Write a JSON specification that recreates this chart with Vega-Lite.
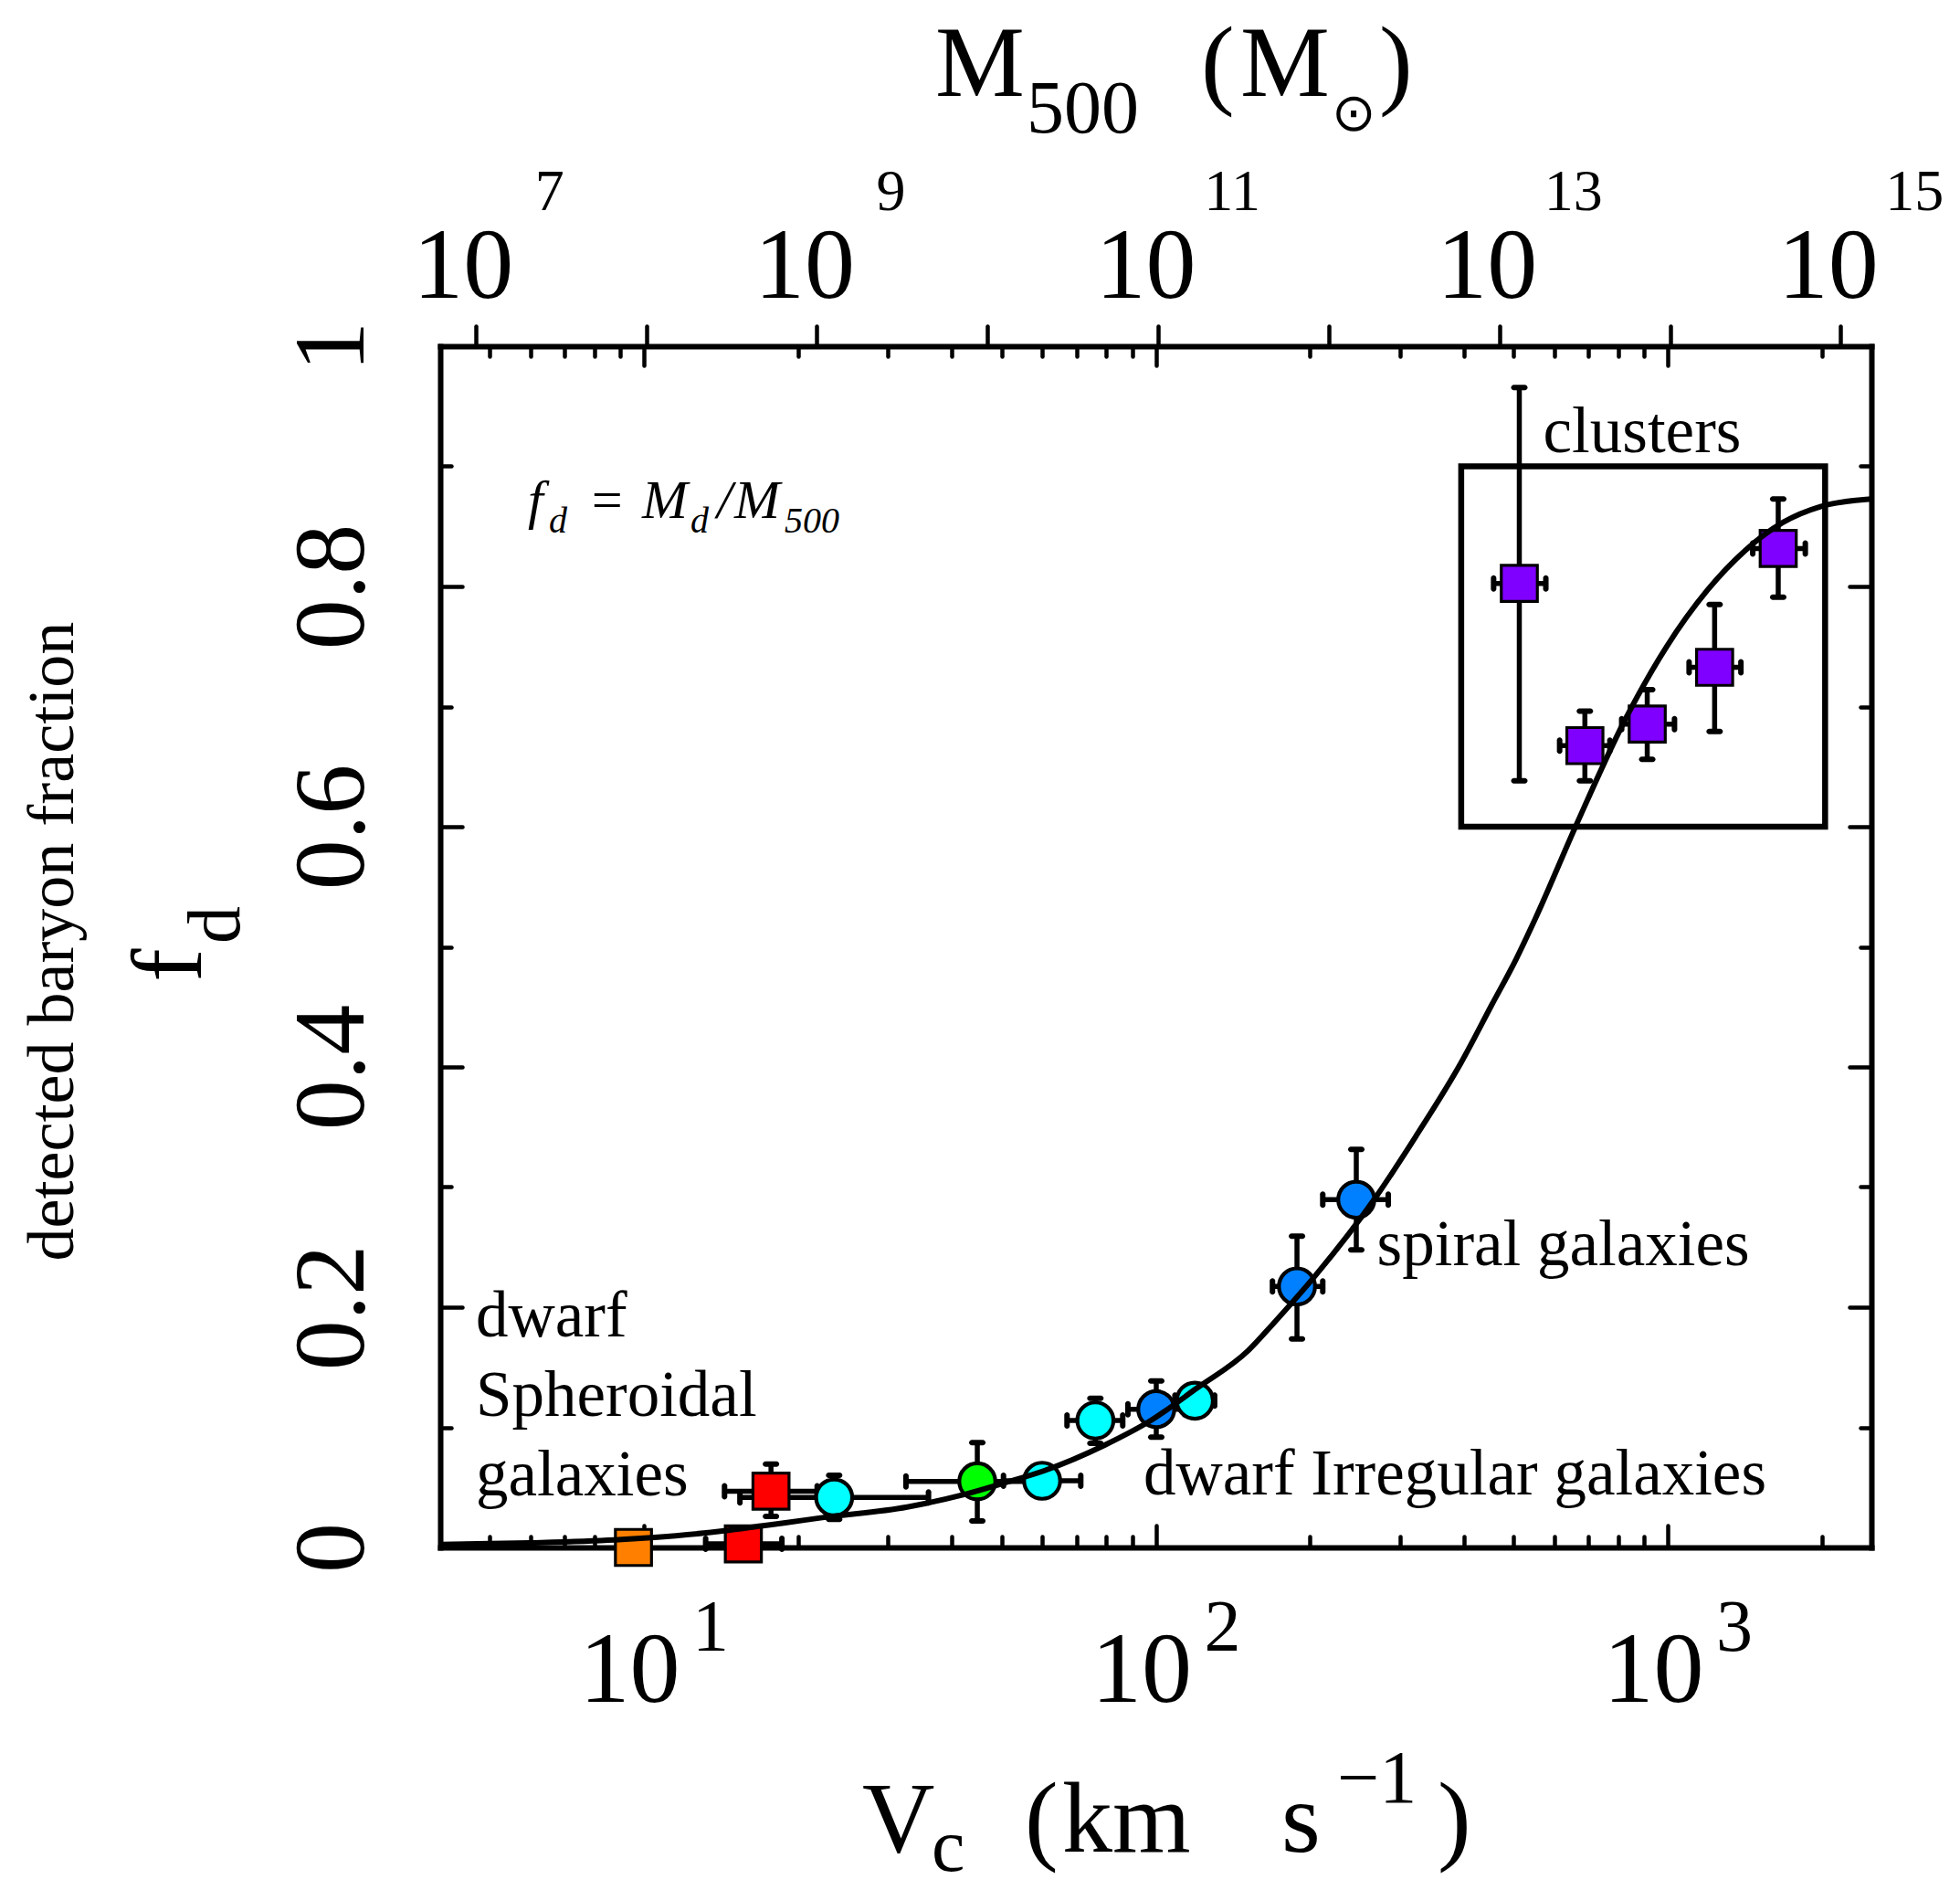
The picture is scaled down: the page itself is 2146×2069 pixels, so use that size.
{
  "$schema": "https://vega.github.io/schema/vega-lite/v6.json",
  "width": 1567,
  "height": 1315,
  "autosize": {"type": "none"},
  "padding": {"left": 482, "top": 379, "right": 97, "bottom": 375},
  "background": "white",
  "config": {
    "view": {"stroke": null},
    "axis": {
      "grid": false, "title": null,
      "labelFont": "Liberation Serif", "labelFontSize": 110, "labelColor": "black",
      "tickColor": "black", "domainColor": "black", "domainWidth": 6, "domainCap": "square",
      "tickWidth": 4.5, "tickCap": "round", "labelOverlap": false, "labelFlush": false, "zindex": 1
    }
  },
  "datasets": {
    "box": [{"V1": 395, "V2": 2030, "f1": 0.6, "f2": 0.9}],
    "curve": [
      {"V": 4.0, "f": 0.0025}, {"V": 5.98, "f": 0.0038}, {"V": 8.76, "f": 0.0062}, {"V": 10.35, "f": 0.0082},
      {"V": 14.35, "f": 0.0138}, {"V": 16.92, "f": 0.0178}, {"V": 18.9, "f": 0.0205}, {"V": 22.3, "f": 0.0248},
      {"V": 32.69, "f": 0.0337}, {"V": 41.82, "f": 0.0436}, {"V": 50.67, "f": 0.0538}, {"V": 60.53, "f": 0.0639},
      {"V": 79.62, "f": 0.0854}, {"V": 97.77, "f": 0.1057}, {"V": 120.0, "f": 0.1323}, {"V": 151.6, "f": 0.164},
      {"V": 169.0, "f": 0.1856}, {"V": 204.8, "f": 0.2261}, {"V": 269.4, "f": 0.292}, {"V": 321.8, "f": 0.342},
      {"V": 395.3, "f": 0.404}, {"V": 453.2, "f": 0.4517}, {"V": 505.6, "f": 0.4897}, {"V": 552, "f": 0.524},
      {"V": 662, "f": 0.601}, {"V": 825, "f": 0.6888}, {"V": 994, "f": 0.7496}, {"V": 1197, "f": 0.7972},
      {"V": 1418, "f": 0.8301}, {"V": 1679, "f": 0.8533}, {"V": 1988, "f": 0.8665}, {"V": 2498, "f": 0.8728}
    ],
    "pts": [
      {"cls": "dSph_o", "V": 9.54, "f": 0.0, "Vlo": null, "Vhi": null, "flo": null, "fhi": null},
      {"cls": "dSph_r", "V": 15.64, "f": 0.003, "Vlo": 13.2, "Vhi": 18.6, "flo": null, "fhi": null},
      {"cls": "dSph_r", "V": 17.71, "f": 0.0468, "Vlo": 14.37, "Vhi": 21.8, "flo": 0.0259, "fhi": 0.0694},
      {"cls": "dIrr", "V": 23.53, "f": 0.0416, "Vlo": 15.4, "Vhi": 35.97, "flo": 0.0233, "fhi": 0.0601},
      {"cls": "dIrr_g", "V": 44.8, "f": 0.055, "Vlo": 32.5, "Vhi": 61.8, "flo": 0.0221, "fhi": 0.0872},
      {"cls": "dIrr", "V": 59.96, "f": 0.0555, "Vlo": 50.4, "Vhi": 71.35, "flo": null, "fhi": null},
      {"cls": "dIrr", "V": 76.2, "f": 0.1057, "Vlo": 67.07, "Vhi": 86.17, "flo": 0.0867, "fhi": 0.1242},
      {"cls": "spiral", "V": 100.2, "f": 0.1151, "Vlo": 88.2, "Vhi": 113.8, "flo": 0.0918, "fhi": 0.1386},
      {"cls": "dIrr", "V": 119.2, "f": 0.1222, "Vlo": 109.0, "Vhi": 130.3, "flo": null, "fhi": null},
      {"cls": "spiral", "V": 188.7, "f": 0.2173, "Vlo": 169.0, "Vhi": 211.9, "flo": 0.1736, "fhi": 0.2591},
      {"cls": "spiral", "V": 246.4, "f": 0.2895, "Vlo": 211.9, "Vhi": 284.5, "flo": 0.2477, "fhi": 0.3313},
      {"cls": "cluster", "V": 513, "f": 0.8025, "Vlo": 457, "Vhi": 578, "flo": 0.6382, "fhi": 0.9655},
      {"cls": "cluster", "V": 689, "f": 0.6675, "Vlo": 615, "Vhi": 771, "flo": 0.6382, "fhi": 0.6962},
      {"cls": "cluster", "V": 912, "f": 0.6854, "Vlo": 813, "Vhi": 1031, "flo": 0.656, "fhi": 0.7141},
      {"cls": "cluster", "V": 1235, "f": 0.7327, "Vlo": 1101, "Vhi": 1390, "flo": 0.6793, "fhi": 0.785},
      {"cls": "cluster", "V": 1644, "f": 0.8316, "Vlo": 1466, "Vhi": 1857, "flo": 0.7911, "fhi": 0.8728}
    ],
    "notes": [
      {"t": "clusters", "V": 570.9, "f": 0.9118},
      {"t": "spiral galaxies", "V": 270.3, "f": 0.235},
      {"t": "dwarf Irregular galaxies", "V": 94.6, "f": 0.0441},
      {"t": "dwarf\nSpheroidal\ngalaxies", "V": 4.695, "f": 0.1757}
    ],
    "formula": [
      {"t": "f", "V": 5.934, "f": 0.8573, "sub": false},
      {"t": "d", "V": 6.524, "f": 0.8449, "sub": true},
      {"t": "=", "V": 7.783, "f": 0.8573, "sub": false},
      {"t": "M", "V": 9.917, "f": 0.8573, "sub": false},
      {"t": "d", "V": 12.33, "f": 0.8449, "sub": true},
      {"t": "/", "V": 13.89, "f": 0.8573, "sub": false},
      {"t": "M", "V": 15.02, "f": 0.8573, "sub": false},
      {"t": "500", "V": 18.83, "f": 0.8449, "sub": true}
    ],
    "titles": [
      {"t": "M", "V": 37.08, "f": 1.2084, "kind": "main"},
      {"t": "(", "V": 122.6, "f": 1.2084, "kind": "main"},
      {"t": "M", "V": 146.3, "f": 1.2084, "kind": "main"},
      {"t": ")", "V": 273.1, "f": 1.2084, "kind": "main"},
      {"t": "V", "V": 26.7, "f": -0.2532, "kind": "main"},
      {"t": "(", "V": 55.45, "f": -0.2532, "kind": "main"},
      {"t": "km", "V": 65.62, "f": -0.2532, "kind": "main"},
      {"t": "s", "V": 175.9, "f": -0.2532, "kind": "main"},
      {"t": ")", "V": 355.1, "f": -0.2532, "kind": "main"},
      {"t": "500", "V": 55.93, "f": 1.1779, "kind": "sub"},
      {"t": "c", "V": 36.47, "f": -0.2692, "kind": "sub"},
      {"t": "−1", "V": 226.0, "f": -0.2122, "kind": "sub"},
      {"t": "⊙", "V": 220.5, "f": 1.1924, "kind": "sun"},
      {"t": "f", "V": 1.3634, "f": 0.4707, "kind": "rot"},
      {"t": "d", "V": 1.618, "f": 0.5027, "kind": "rotsub"},
      {"t": "detected baryon fraction", "V": 0.7671, "f": 0.5045, "kind": "rotlabel"}
    ],
    "xexp": [{"V": 10, "e": "1"}, {"V": 100, "e": "2"}, {"V": 1000, "e": "3"}],
    "mexp": [{"M": 1e7, "e": "7"}, {"M": 1e9, "e": "9"}, {"M": 1e11, "e": "11"}, {"M": 1e13, "e": "13"}, {"M": 1e15, "e": "15"}]
  },
  "resolve": {"scale": {"x": "independent"}, "axis": {"x": "independent", "y": "independent"}},
  "layer": [
    {
      "data": {"name": "box"},
      "mark": {"type": "rect", "fill": "transparent", "stroke": "black", "strokeWidth": 6.5},
      "encoding": {
        "x": {"field": "V1", "type": "quantitative", "scale": {"type": "log", "domain": [4, 2500], "nice": false}, "axis": null},
        "x2": {"field": "V2"},
        "y": {"field": "f1", "type": "quantitative", "scale": {"domain": [0, 1], "nice": false, "zero": false}, "axis": null},
        "y2": {"field": "f2"}
      }
    },
    {
      "data": {"name": "pts"},
      "transform": [{"filter": "datum.flo != null"}],
      "mark": {"type": "rule", "color": "black", "strokeWidth": 5.5},
      "encoding": {
        "x": {"field": "V", "type": "quantitative", "scale": {"type": "log", "domain": [4, 2500], "nice": false},
          "axis": {"orient": "top", "values": [5,6,7,8,9,10,20,30,40,50,60,70,80,90,100,200,300,400,500,600,700,800,900,1000,2000], "labels": false,
            "tickSize": {"condition": {"test": "datum.value == 10 || datum.value == 100 || datum.value == 1000", "value": -21}, "value": -11}}},
        "y": {"field": "flo", "type": "quantitative", "scale": {"domain": [0, 1], "nice": false, "zero": false},
          "axis": {"orient": "right", "values": [0,0.1,0.2,0.3,0.4,0.5,0.6,0.7,0.8,0.9,1], "labels": false,
            "tickSize": {"condition": {"test": "round(datum.value*10) % 2 == 0", "value": -24}, "value": -12}}},
        "y2": {"field": "fhi"}
      }
    },
    {
      "data": {"name": "pts"},
      "transform": [{"filter": "datum.Vlo != null"}],
      "mark": {"type": "rule", "color": "black", "strokeWidth": 5.5},
      "encoding": {
        "x": {"field": "Vlo", "type": "quantitative", "scale": {"type": "log", "domain": [4, 2500], "nice": false}, "axis": null},
        "x2": {"field": "Vhi"},
        "y": {"field": "f", "type": "quantitative", "scale": {"domain": [0, 1], "nice": false, "zero": false}, "axis": null}
      }
    },
    {
      "data": {"name": "pts"},
      "transform": [{"fold": ["flo", "fhi"], "as": ["end", "fv"]}, {"filter": "datum.fv != null"}],
      "mark": {"type": "tick", "orient": "horizontal", "color": "black", "size": 18, "thickness": 6, "cornerRadius": 3, "opacity": 1},
      "encoding": {
        "x": {"field": "V", "type": "quantitative", "scale": {"type": "log", "domain": [4, 2500], "nice": false}, "axis": null},
        "y": {"field": "fv", "type": "quantitative", "scale": {"domain": [0, 1], "nice": false, "zero": false}, "axis": null}
      }
    },
    {
      "data": {"name": "pts"},
      "transform": [{"fold": ["Vlo", "Vhi"], "as": ["end", "vv"]}, {"filter": "datum.vv != null"}],
      "mark": {"type": "tick", "orient": "vertical", "color": "black", "size": 18, "thickness": 6, "cornerRadius": 3, "opacity": 1},
      "encoding": {
        "x": {"field": "vv", "type": "quantitative", "scale": {"type": "log", "domain": [4, 2500], "nice": false}, "axis": null},
        "y": {"field": "f", "type": "quantitative", "scale": {"domain": [0, 1], "nice": false, "zero": false}, "axis": null}
      }
    },
    {
      "data": {"name": "pts"},
      "transform": [{"filter": "indexof(['dSph_o','dSph_r','cluster'], datum.cls) >= 0"}],
      "mark": {"type": "point", "shape": "square", "filled": true, "size": 1560, "stroke": "black", "strokeWidth": 3.2, "opacity": 1},
      "encoding": {
        "x": {"field": "V", "type": "quantitative", "scale": {"type": "log", "domain": [4, 2500], "nice": false}, "axis": null},
        "y": {"field": "f", "type": "quantitative", "scale": {"domain": [0, 1], "nice": false, "zero": false}, "axis": null},
        "color": {"field": "cls", "type": "nominal", "legend": null,
          "scale": {"domain": ["dSph_o","dSph_r","dIrr","dIrr_g","spiral","cluster"], "range": ["#FF8000","#FF0000","#00FFFF","#00FF00","#0080FF","#8000FF"]}}
      }
    },
    {
      "data": {"name": "pts"},
      "transform": [{"filter": "indexof(['dSph_o','dSph_r','cluster'], datum.cls) < 0"}],
      "mark": {"type": "point", "shape": "circle", "filled": true, "size": 1560, "stroke": "black", "strokeWidth": 4.2, "opacity": 1},
      "encoding": {
        "x": {"field": "V", "type": "quantitative", "scale": {"type": "log", "domain": [4, 2500], "nice": false}, "axis": null},
        "y": {"field": "f", "type": "quantitative", "scale": {"domain": [0, 1], "nice": false, "zero": false}, "axis": null},
        "color": {"field": "cls", "type": "nominal", "legend": null,
          "scale": {"domain": ["dSph_o","dSph_r","dIrr","dIrr_g","spiral","cluster"], "range": ["#FF8000","#FF0000","#00FFFF","#00FF00","#0080FF","#8000FF"]}}
      }
    },
    {
      "data": {"name": "curve"},
      "mark": {"type": "line", "color": "black", "strokeWidth": 6, "interpolate": "monotone"},
      "encoding": {
        "x": {"field": "V", "type": "quantitative", "scale": {"type": "log", "domain": [4, 2500], "nice": false},
          "axis": {"orient": "bottom", "values": [5,6,7,8,9,10,20,30,40,50,60,70,80,90,100,200,300,400,500,600,700,800,900,1000,2000],
            "tickSize": {"condition": {"test": "datum.value == 10 || datum.value == 100 || datum.value == 1000", "value": -24}, "value": -12},
            "labelExpr": "datum.value == 10 || datum.value == 100 || datum.value == 1000 ? '10' : ''",
            "labelBaseline": "alphabetic", "labelAlign": "center", "labelPadding": 192, "labelOffset": -16}},
        "y": {"field": "f", "type": "quantitative", "scale": {"domain": [0, 1], "nice": false, "zero": false},
          "axis": {"orient": "left", "values": [0,0.1,0.2,0.3,0.4,0.5,0.6,0.7,0.8,0.9,1],
            "tickSize": {"condition": {"test": "round(datum.value*10) % 2 == 0", "value": -24}, "value": -12},
            "labelExpr": "round(datum.value*10) % 2 == 0 ? format(datum.value, '.1~f') : ''",
            "labelAngle": -90, "labelAlign": "center", "labelBaseline": "alphabetic", "labelPadding": 109}}
      }
    },
    {
      "data": {"name": "notes"},
      "mark": {"type": "text", "font": "Liberation Serif", "fontSize": 71, "align": "left", "baseline": "alphabetic", "lineBreak": "\n", "lineHeight": 87, "color": "black"},
      "encoding": {
        "x": {"field": "V", "type": "quantitative", "scale": {"type": "log", "domain": [4, 2500], "nice": false}, "axis": null},
        "y": {"field": "f", "type": "quantitative", "scale": {"domain": [0, 1], "nice": false, "zero": false}, "axis": null},
        "text": {"field": "t"}
      }
    },
    {
      "data": {"name": "formula"},
      "transform": [{"filter": "!datum.sub"}],
      "mark": {"type": "text", "font": "Liberation Serif", "fontStyle": "italic", "fontSize": 60, "align": "left", "baseline": "alphabetic", "color": "black"},
      "encoding": {
        "x": {"field": "V", "type": "quantitative", "scale": {"type": "log", "domain": [4, 2500], "nice": false}, "axis": null},
        "y": {"field": "f", "type": "quantitative", "scale": {"domain": [0, 1], "nice": false, "zero": false}, "axis": null},
        "text": {"field": "t"}
      }
    },
    {
      "data": {"name": "formula"},
      "transform": [{"filter": "datum.sub"}],
      "mark": {"type": "text", "font": "Liberation Serif", "fontStyle": "italic", "fontSize": 40, "align": "left", "baseline": "alphabetic", "color": "black"},
      "encoding": {
        "x": {"field": "V", "type": "quantitative", "scale": {"type": "log", "domain": [4, 2500], "nice": false}, "axis": null},
        "y": {"field": "f", "type": "quantitative", "scale": {"domain": [0, 1], "nice": false, "zero": false}, "axis": null},
        "text": {"field": "t"}
      }
    },
    {
      "data": {"name": "titles"},
      "transform": [{"filter": "datum.kind == 'main'"}],
      "mark": {"type": "text", "font": "Liberation Serif", "fontSize": 110, "align": "left", "baseline": "alphabetic", "color": "black"},
      "encoding": {
        "x": {"field": "V", "type": "quantitative", "scale": {"type": "log", "domain": [4, 2500], "nice": false}, "axis": null},
        "y": {"field": "f", "type": "quantitative", "scale": {"domain": [0, 1], "nice": false, "zero": false}, "axis": null},
        "text": {"field": "t"}
      }
    },
    {
      "data": {"name": "titles"},
      "transform": [{"filter": "datum.kind == 'sub'"}],
      "mark": {"type": "text", "font": "Liberation Serif", "fontSize": 82, "align": "left", "baseline": "alphabetic", "color": "black"},
      "encoding": {
        "x": {"field": "V", "type": "quantitative", "scale": {"type": "log", "domain": [4, 2500], "nice": false}, "axis": null},
        "y": {"field": "f", "type": "quantitative", "scale": {"domain": [0, 1], "nice": false, "zero": false}, "axis": null},
        "text": {"field": "t"}
      }
    },
    {
      "data": {"name": "titles"},
      "transform": [{"filter": "datum.kind == 'sun'"}],
      "mark": {"type": "text", "font": "DejaVu Sans", "fontSize": 58, "align": "left", "baseline": "middle", "color": "black"},
      "encoding": {
        "x": {"field": "V", "type": "quantitative", "scale": {"type": "log", "domain": [4, 2500], "nice": false}, "axis": null},
        "y": {"field": "f", "type": "quantitative", "scale": {"domain": [0, 1], "nice": false, "zero": false}, "axis": null},
        "text": {"field": "t"}
      }
    },
    {
      "data": {"name": "titles"},
      "transform": [{"filter": "datum.kind == 'rot'"}],
      "mark": {"type": "text", "font": "Liberation Serif", "fontSize": 110, "align": "left", "baseline": "alphabetic", "angle": -90, "color": "black"},
      "encoding": {
        "x": {"field": "V", "type": "quantitative", "scale": {"type": "log", "domain": [4, 2500], "nice": false}, "axis": null},
        "y": {"field": "f", "type": "quantitative", "scale": {"domain": [0, 1], "nice": false, "zero": false}, "axis": null},
        "text": {"field": "t"}
      }
    },
    {
      "data": {"name": "titles"},
      "transform": [{"filter": "datum.kind == 'rotsub'"}],
      "mark": {"type": "text", "font": "Liberation Serif", "fontSize": 82, "align": "left", "baseline": "alphabetic", "angle": -90, "color": "black"},
      "encoding": {
        "x": {"field": "V", "type": "quantitative", "scale": {"type": "log", "domain": [4, 2500], "nice": false}, "axis": null},
        "y": {"field": "f", "type": "quantitative", "scale": {"domain": [0, 1], "nice": false, "zero": false}, "axis": null},
        "text": {"field": "t"}
      }
    },
    {
      "data": {"name": "titles"},
      "transform": [{"filter": "datum.kind == 'rotlabel'"}],
      "mark": {"type": "text", "font": "Liberation Serif", "fontSize": 72, "align": "center", "baseline": "alphabetic", "angle": -90, "color": "black"},
      "encoding": {
        "x": {"field": "V", "type": "quantitative", "scale": {"type": "log", "domain": [4, 2500], "nice": false}, "axis": null},
        "y": {"field": "f", "type": "quantitative", "scale": {"domain": [0, 1], "nice": false, "zero": false}, "axis": null},
        "text": {"field": "t"}
      }
    },
    {
      "data": {"name": "xexp"},
      "mark": {"type": "text", "font": "Liberation Serif", "fontSize": 80, "align": "center", "baseline": "alphabetic", "dx": 73, "color": "black"},
      "encoding": {
        "x": {"field": "V", "type": "quantitative", "scale": {"type": "log", "domain": [4, 2500], "nice": false}, "axis": null},
        "y": {"datum": -0.0859, "type": "quantitative", "scale": {"domain": [0, 1], "nice": false, "zero": false}, "axis": null},
        "text": {"field": "e"}
      }
    },
    {
      "data": {"name": "mexp"},
      "mark": {"type": "text", "font": "Liberation Serif", "fontSize": 64, "align": "center", "baseline": "alphabetic", "dx": 81, "color": "black"},
      "encoding": {
        "x": {"field": "M", "type": "quantitative", "scale": {"type": "log", "domain": [6.2e6, 1.514e15], "nice": false},
          "axis": {"orient": "top", "values": [1e7,1e8,1e9,1e10,1e11,1e12,1e13,1e14,1e15], "domain": false, "tickSize": 22, "tickWidth": 4.5,
            "labelExpr": "round(log(datum.value)/LN10) % 2 == 1 ? '10' : ''",
            "labelBaseline": "alphabetic", "labelAlign": "center", "labelPadding": 32, "labelOffset": -14}},
        "y": {"datum": 1.1133, "type": "quantitative", "scale": {"domain": [0, 1], "nice": false, "zero": false}, "axis": null},
        "text": {"field": "e"}
      }
    }
  ]
}
